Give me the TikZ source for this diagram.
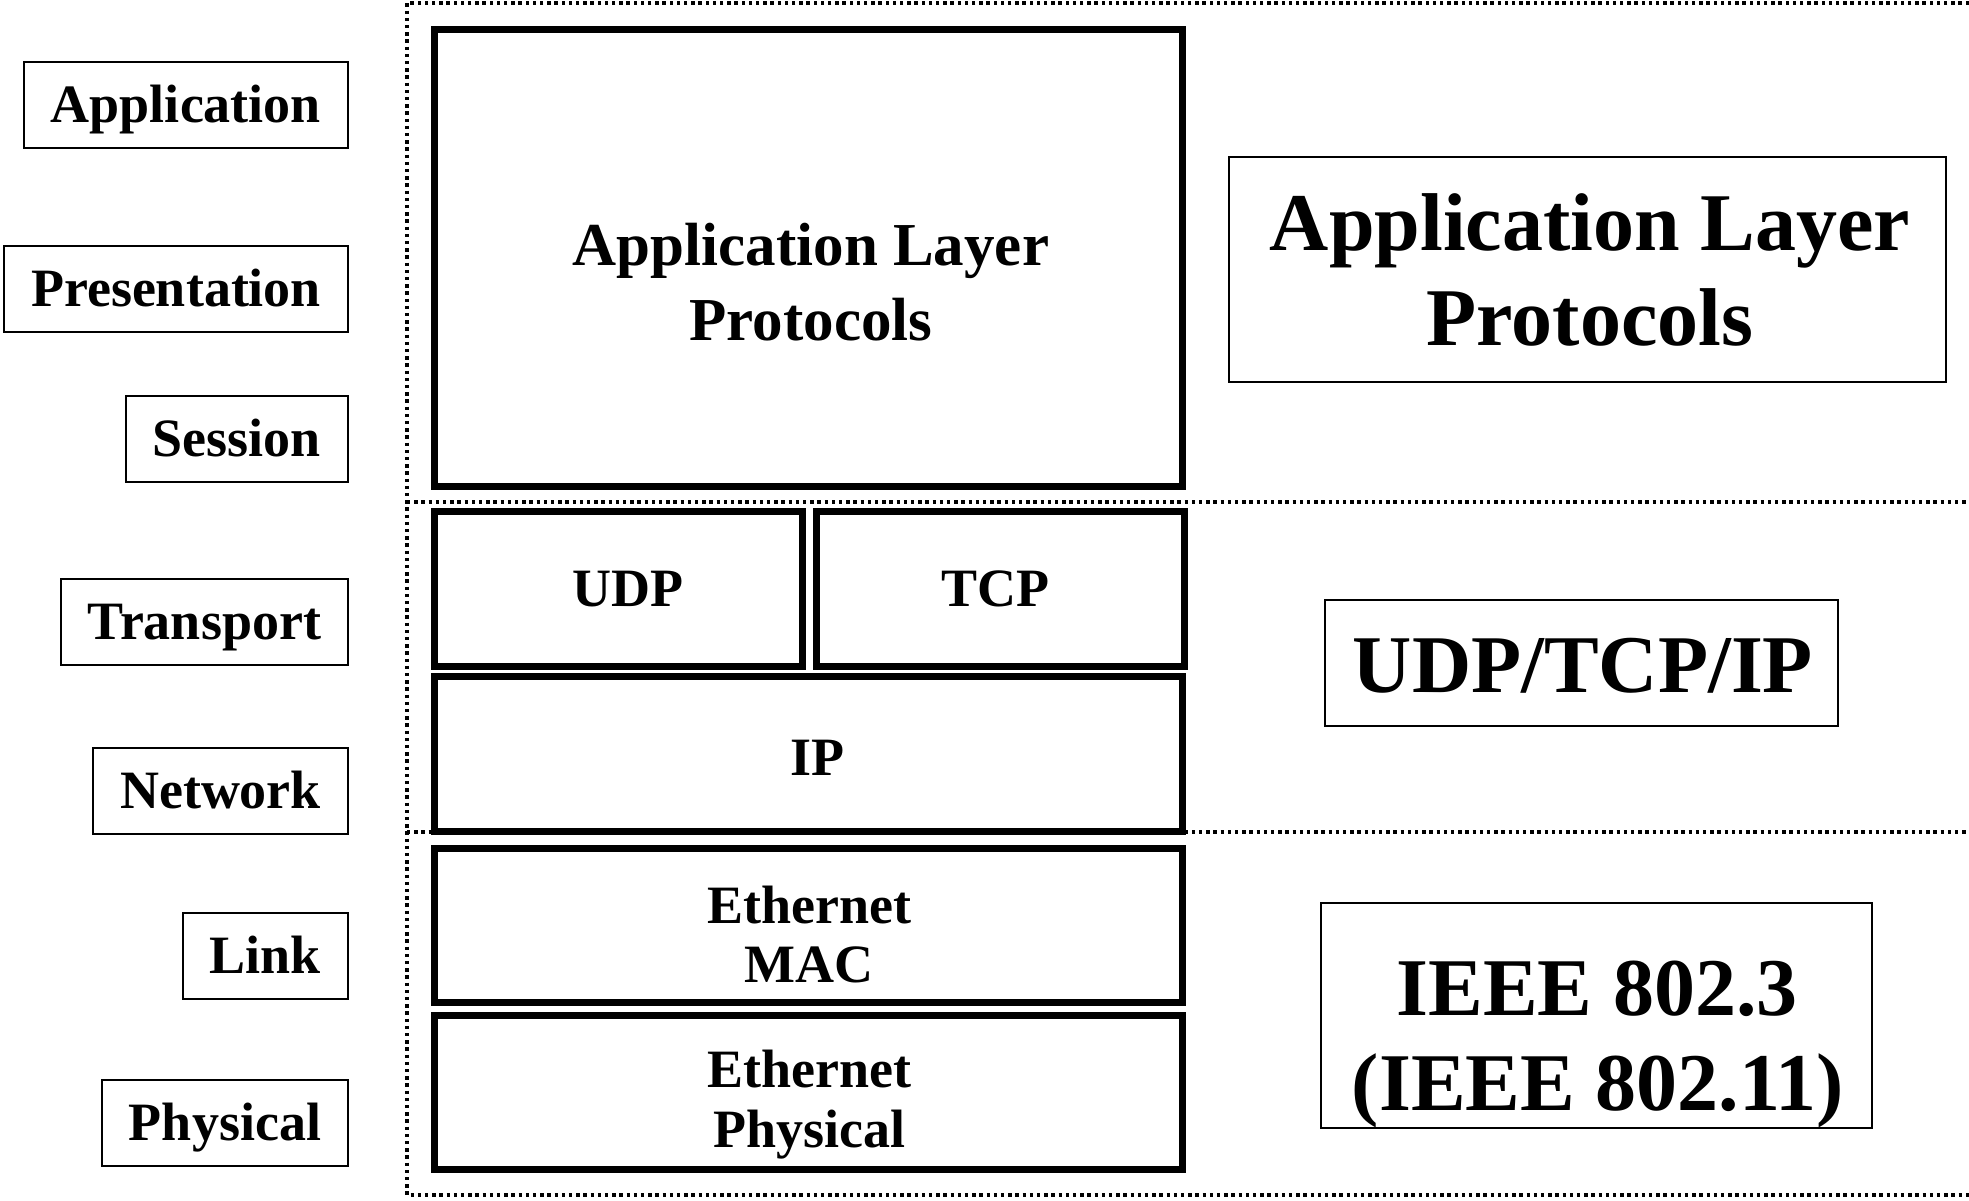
\documentclass[tikz,border=0pt]{standalone}
\usepackage{fontspec}
\setmainfont{Liberation Serif}
\begin{document}
\begin{tikzpicture}[x=0.5pt,y=-0.5pt,
  dotline/.style={line width=1.6pt, dash pattern=on 1.7pt off 1.9pt},
  layerbox/.style={draw, line width=1pt, rectangle, anchor=east, inner xsep=13.5pt, inner ysep=0pt, minimum height=43pt, text height=17.7pt, text depth=0pt, font=\fontsize{27}{32}\selectfont\bfseries},
  stackbox/.style={draw, line width=3.5pt, rectangle, inner sep=0pt},
  sumbox/.style={draw, line width=1.3pt, rectangle, inner sep=0pt},
  midtext/.style={anchor=base, inner sep=0pt, font=\fontsize{27}{32}\selectfont\bfseries},
  apptext/.style={anchor=base, inner sep=0pt, font=\fontsize{30.5}{36}\selectfont\bfseries},
  bigtext/.style={anchor=base, inner sep=0pt, font=\fontsize{41}{48}\selectfont\bfseries}
]
\useasboundingbox (0,0) rectangle (1969,1200);

% dotted frame
\coordinate (dTL) at (407,3);
\coordinate (dTR) at (1969,3);
\coordinate (dBL) at (407,1195);
\coordinate (dBR) at (1969,1195);
\coordinate (dML) at (407,502);
\coordinate (dMR) at (1969,502);
\coordinate (dLL) at (407,832);
\coordinate (dLR) at (1969,832);
\draw[dotline] (dTR) -- (dTL) -- (dBL) -- (dBR);
\draw[dotline] (dML) -- (dMR);
\draw[dotline] (dLL) -- (dLR);

% OSI layer labels
\node[layerbox] (lapp)  at (349,105)   {Application};
\node[layerbox] (lpres) at (349,289)   {Presentation};
\node[layerbox] (lsess) at (349,439)   {Session};
\node[layerbox] (ltran) at (349,621.5) {Transport};
\node[layerbox] (lnet)  at (349,790.5) {Network};
\node[layerbox] (llink) at (349,955.5) {Link};
\node[layerbox] (lphy)  at (349,1122.5){Physical};

% protocol stack
\node[stackbox, minimum width=374pt, minimum height=228.5pt] (app) at (808,257.5) {};
\node[stackbox, minimum width=184pt, minimum height=77.5pt] (udp) at (618,588.5) {};
\node[stackbox, minimum width=184pt, minimum height=77.5pt] (tcp) at (1000,588.5) {};
\node[stackbox, minimum width=374pt, minimum height=77.5pt] (ip) at (808,753.5) {};
\node[stackbox, minimum width=374pt, minimum height=77pt] (mac) at (808,925) {};
\node[stackbox, minimum width=374pt, minimum height=77pt] (phy) at (808,1092) {};

\node[apptext] (appt1) at (811,265) {Application Layer};
\node[apptext] (appt2) at (811,340) {Protocols};
\node[midtext] (udpt) at (628,606) {UDP};
\node[midtext] (tcpt) at (995,606) {TCP};
\node[midtext] (ipt) at (817,775) {IP};
\node[midtext] (mact1) at (809,923) {Ethernet};
\node[midtext] (mact2) at (809,982) {MAC};
\node[midtext] (phyt1) at (809,1087) {Ethernet};
\node[midtext] (phyt2) at (809,1147) {Physical};

% summary boxes
\node[sumbox, minimum width=358.5pt, minimum height=112.5pt] (rapp) at (1587.5,269.5) {};
\node[sumbox, minimum width=256.5pt, minimum height=63pt] (rudp) at (1581.5,663) {};
\node[sumbox, minimum width=275.5pt, minimum height=112.5pt] (rieee) at (1596.5,1015.5) {};

\node[bigtext] (rappt1) at (1590,250) {Application Layer};
\node[bigtext] (rappt2) at (1590,345) {Protocols};
\node[bigtext] (rudpt) at (1583,692) {UDP/TCP/IP};
\node[bigtext] (rieeet1) at (1597,1015) {IEEE 802.3};
\node[bigtext] (rieeet2) at (1598,1110) {(IEEE 802.11)};
\end{tikzpicture}
\end{document}
